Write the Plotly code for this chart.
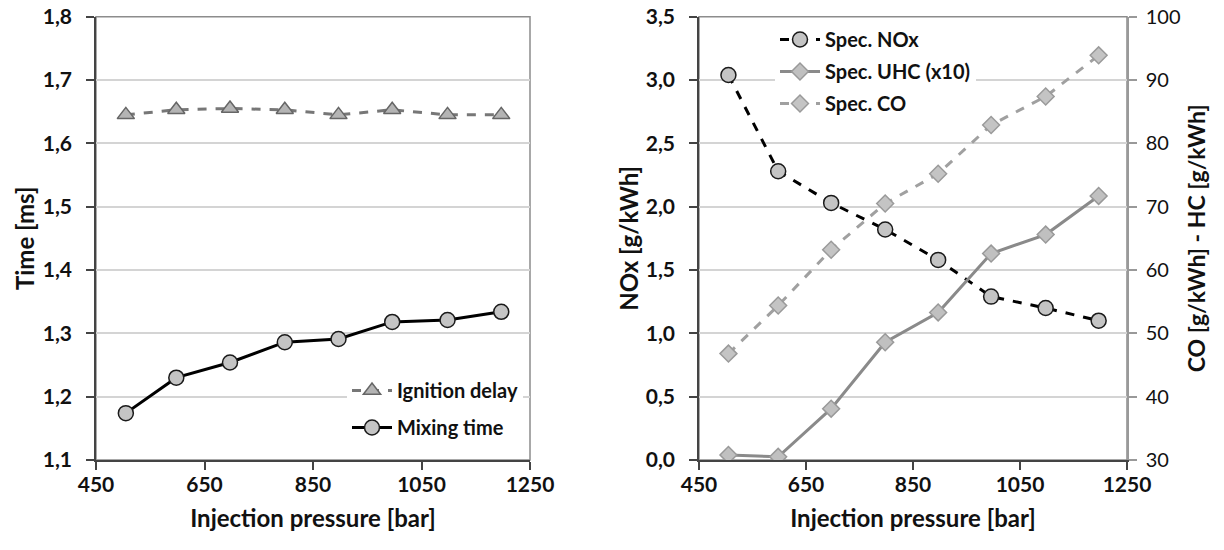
import plotly.graph_objects as go

# ---------------- data ----------------
pressure = [505, 598, 697, 798, 897, 996, 1098, 1197]
ignition_delay = [1.645, 1.653, 1.655, 1.653, 1.645, 1.653, 1.645, 1.645]
mixing_time = [1.174, 1.230, 1.254, 1.286, 1.291, 1.318, 1.321, 1.334]
spec_nox = [3.04, 2.28, 2.03, 1.82, 1.58, 1.29, 1.20, 1.10]
spec_uhc_x10 = [30.8, 30.5, 38.1, 48.6, 53.3, 62.6, 65.6, 71.7]
spec_co = [46.8, 54.4, 63.2, 70.5, 75.2, 82.9, 87.4, 93.9]
x_ticks = [450, 650, 850, 1050, 1250]

# body margin is removed by post_script, so figure fills the page
OFF = 0
W, H = 1224 - OFF, 550 - OFF
FONT = "Lato"

def px_x(p):
    return (p - OFF) / W

def px_y(p):
    return 1 - (p - OFF) / H

fig = go.Figure()

# ---- left panel ----
fig.add_trace(go.Scatter(
    x=pressure, y=ignition_delay, name="Ignition delay", mode="lines+markers",
    xaxis="x", yaxis="y", legend="legend", legendgroup="a",
    line=dict(color="#777777", width=3, dash="dash"),
    marker=dict(symbol="triangle-up", size=15, color="#b4b4b4",
                line=dict(color="#666666", width=1.5)),
))
fig.add_trace(go.Scatter(
    x=pressure, y=mixing_time, name="Mixing time", mode="lines+markers",
    xaxis="x", yaxis="y", legend="legend", legendgroup="b",
    line=dict(color="#000000", width=3),
    marker=dict(symbol="circle", size=15, color="#c4c4c4",
                line=dict(color="#1a1a1a", width=1.5)),
))

# ---- right panel ----
fig.add_trace(go.Scatter(
    x=pressure, y=spec_nox, name="Spec. NOx", mode="lines+markers",
    xaxis="x2", yaxis="y2", legend="legend2", legendgroup="c",
    line=dict(color="#000000", width=3, dash="dash"),
    marker=dict(symbol="circle", size=15, color="#c4c4c4",
                line=dict(color="#1a1a1a", width=1.5)),
))
fig.add_trace(go.Scatter(
    x=pressure, y=spec_uhc_x10, name="Spec. UHC (x10)", mode="lines+markers",
    xaxis="x2", yaxis="y3", legend="legend2", legendgroup="d",
    line=dict(color="#8a8a8a", width=3),
    marker=dict(symbol="diamond", size=13, color="#c0c0c0",
                line=dict(color="#999999", width=1.5)),
))
fig.add_trace(go.Scatter(
    x=pressure, y=spec_co, name="Spec. CO", mode="lines+markers",
    xaxis="x2", yaxis="y3", legend="legend2", legendgroup="e",
    line=dict(color="#a0a0a0", width=3, dash="dash"),
    marker=dict(symbol="diamond", size=13, color="#c4c4c4",
                line=dict(color="#9a9a9a", width=1.5)),
))

tick_bold = dict(family=FONT, size=21, color="#111111", weight="bold")
title_font = dict(family=FONT, size=24, color="#111111", weight="bold")

xcommon = dict(
    range=[450, 1250], tickvals=x_ticks, showgrid=False, zeroline=False,
    showline=True, linecolor="#444444", linewidth=1.5,
    ticks="outside", ticklen=8, tickcolor="#444444", tickwidth=1.5,
    tickfont=tick_bold, automargin=False, ticklabelstandoff=-3,
    ticklabeloverflow="allow",
    title=dict(text="Injection pressure [bar]", font=title_font, standoff=15),
)

ycommon = dict(
    tickformat=".1f", showgrid=True, gridcolor="#d4d4d4", gridwidth=1.5,
    zeroline=False, showline=True, linecolor="#444444", linewidth=1.5,
    ticks="outside", ticklen=8, tickcolor="#444444", tickwidth=1.5,
    tickfont=tick_bold, automargin=False, ticklabelstandoff=10,
    ticklabeloverflow="allow",
)

L_dom = [px_x(96), px_x(530)]
R_dom = [px_x(699), px_x(1127)]
Y_dom = [px_y(460), px_y(16.7)]

fig.update_layout(
    width=W, height=H,
    margin=dict(l=0, r=0, t=0, b=0),
    paper_bgcolor="white", plot_bgcolor="white",
    separators=", ",
    font=dict(family=FONT, color="#111111"),
    xaxis=dict(xcommon, domain=L_dom, anchor="y"),
    yaxis=dict(
        ycommon, domain=Y_dom, anchor="x", range=[1.1, 1.8], dtick=0.1, tick0=1.1,
        title=dict(text="Time [ms]", font=title_font, standoff=1),
    ),
    xaxis2=dict(xcommon, domain=R_dom, anchor="y2"),
    yaxis2=dict(
        ycommon, domain=Y_dom, anchor="x2", range=[0, 3.5], dtick=0.5, tick0=0,
        title=dict(text="NOx [g/kWh]", font=title_font, standoff=0),
    ),
    yaxis3=dict(
        overlaying="y2", side="right", anchor="x2", range=[30, 100], dtick=10,
        showgrid=False, zeroline=False, showline=True, linecolor="#999999",
        linewidth=1.5, ticks="outside", ticklen=8, tickcolor="#999999",
        tickwidth=1.5, automargin=False, ticklabelstandoff=5,
        ticklabeloverflow="allow",
        tickfont=dict(family=FONT, size=20, color="#111111"),
        title=dict(text="CO [g/kWh] - HC [g/kWh]",
                   font=dict(family=FONT, size=23, color="#111111", weight="bold"),
                   standoff=9),
    ),
    legend=dict(
        x=px_x(347), y=px_y(371), xanchor="left", yanchor="top",
        bgcolor="white", borderwidth=0, traceorder="grouped", tracegroupgap=8,
        font=dict(family=FONT, size=20, color="#111111", weight="bold"),
        itemwidth=40,
    ),
    legend2=dict(
        x=px_x(775), y=px_y(20), xanchor="left", yanchor="top",
        bgcolor="white", borderwidth=0, traceorder="grouped", tracegroupgap=3,
        font=dict(family=FONT, size=20, color="#111111", weight="bold"),
        itemwidth=40,
    ),
    showlegend=True,
    shapes=[
        dict(type="rect", xref="x domain", yref="y domain", x0=0, x1=1, y0=0, y1=1,
             line=dict(color="#8c8c8c", width=1.5), layer="below"),
        dict(type="rect", xref="x2 domain", yref="y2 domain", x0=0, x1=1, y0=0, y1=1,
             line=dict(color="#8c8c8c", width=1.5), layer="below"),
    ],
)

fig.write_html(
    "out.html",
    config={"displayModeBar": False},
    post_script="document.body.style.margin='0px';document.body.style.overflow='hidden';",
)
